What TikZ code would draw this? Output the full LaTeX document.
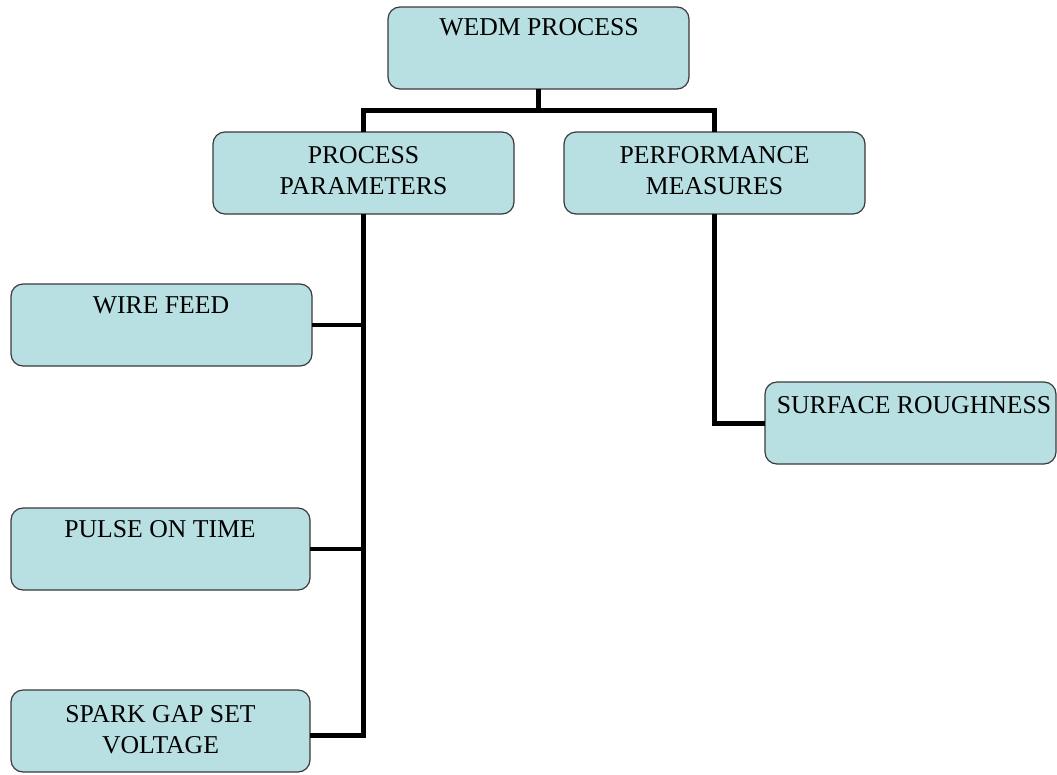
\documentclass[tikz,border=0pt]{standalone}
\usepackage{fontspec}
\setmainfont{Liberation Serif}
\definecolor{boxfill}{HTML}{B8DFE2}
\definecolor{boxline}{HTML}{3A3A3A}
\begin{document}
\begin{tikzpicture}[x=1pt,y=-1pt,
  box/.style={draw=boxline, line width=1.2pt, fill=boxfill, rounded corners=12pt,
    minimum width=301pt, minimum height=82pt, inner sep=0pt, outer sep=0pt},
  txt/.style={font=\fontsize{25.7}{31}\selectfont, inner sep=0pt, align=center, anchor=base},
  link/.style={line width=5pt, black},
  branch/.style={line width=4.5pt, black}]
\useasboundingbox (0,0) rectangle (1057,774);
% boxes
\node[box] (wedm) at (538.5,48) {};
\node[box] (pp) at (363.5,173) {};
\node[box] (pm) at (714.5,173) {};
\node[box] (wf) at (161.5,325) {};
\node[box, minimum width=299pt] (pot) at (160.5,549) {};
\node[box, minimum width=299pt] (sg) at (160.5,731) {};
\node[box, minimum width=291pt] (sr) at (910.5,423) {};
% texts (base anchor = last line)
\node[txt] (wedmt) at (539,35) {WEDM PROCESS};
\node[txt] (ppt) at (363.5,194) {PROCESS\\PARAMETERS};
\node[txt] (pmt) at (714.5,194) {PERFORMANCE\\MEASURES};
\node[txt] (wft) at (161,313) {WIRE FEED};
\node[txt] (pott) at (160,537) {PULSE ON TIME};
\node[txt] (sgt) at (160.5,753) {SPARK GAP SET\\VOLTAGE};
\node[txt] (srt) at (914,413) {SURFACE ROUGHNESS};
% connectors
\coordinate (jt) at (538.5,110.5);
\draw[link] (wedm.south) -- (jt);
\draw[link] (pp.north) |- (jt) -| (pm.north);
\draw[link] (pp.south) |- (sg.east |- 0,735) coordinate (sgj);
\draw[branch] (wf.east) -- (pp.south |- wf.east);
\draw[branch] (pot.east) -- (pp.south |- pot.east);
\draw[link] (pm.south) |- (sr.west);
\end{tikzpicture}
\end{document}
